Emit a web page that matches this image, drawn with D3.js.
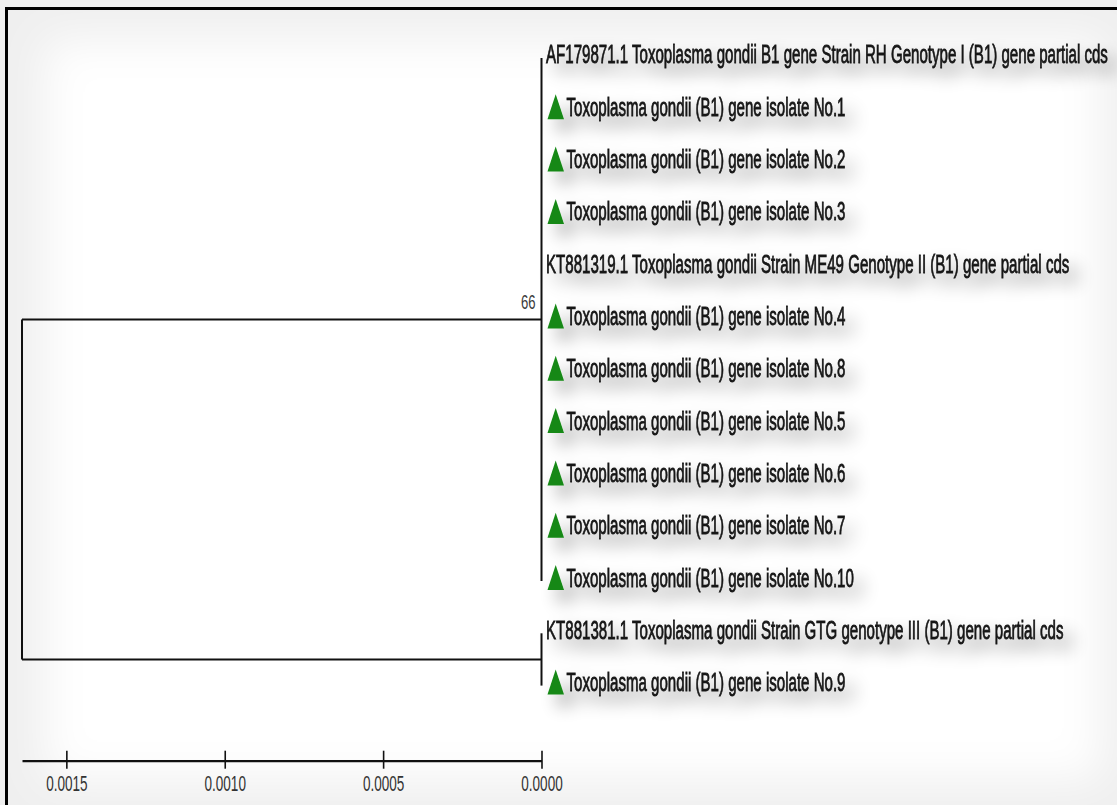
<!DOCTYPE html>
<html>
<head>
<meta charset="utf-8">
<script src="https://cdn.jsdelivr.net/npm/d3@7"></script>
<style>
  body { margin: 0; background: #fff; }
  text { font-family: "Liberation Sans", Arial, sans-serif; }
</style>
</head>
<body>
<div id="tree"></div>
<script>
// leaves, top to bottom
var leafNames = [
    "AF179871.1 Toxoplasma gondii B1 gene Strain RH Genotype I (B1) gene partial cds",
    "Toxoplasma gondii (B1) gene isolate No.1",
    "Toxoplasma gondii (B1) gene isolate No.2",
    "Toxoplasma gondii (B1) gene isolate No.3",
    "KT881319.1 Toxoplasma gondii Strain ME49 Genotype II (B1) gene partial cds",
    "Toxoplasma gondii (B1) gene isolate No.4",
    "Toxoplasma gondii (B1) gene isolate No.8",
    "Toxoplasma gondii (B1) gene isolate No.5",
    "Toxoplasma gondii (B1) gene isolate No.6",
    "Toxoplasma gondii (B1) gene isolate No.7",
    "Toxoplasma gondii (B1) gene isolate No.10",
    "KT881381.1 Toxoplasma gondii Strain GTG genotype III (B1) gene partial cds",
    "Toxoplasma gondii (B1) gene isolate No.9"
];
// isolates from this study get a green triangle
var isolateMark = [false, true, true, true, false, true, true, true, true, true, true, false, true];
// clade membership (index of clade for each leaf)
var leafClade = [0, 0, 0, 0, 0, 0, 0, 0, 0, 0, 0, 1, 1];
// branch length root -> clade, clade -> leaf
var cladeBranch = [0.00164, 0.00164];
var leafBranch = [0, 0, 0, 0, 0, 0, 0, 0, 0, 0, 0, 0, 0];
var cladeSupport = ["66", ""];
var scaleTicks = [0.0015, 0.0010, 0.0005, 0.0000];

drawTree();
function drawTree(){
    var W = 1117, H = 805;

    var svg = d3.select("#tree")
    .append("svg")
        .attr("width", W)
        .attr("height", H);

    var defs = svg.append("defs");
    var f = defs.append("filter").attr("id", "shadow")
        .attr("x", "-5%").attr("y", "-80%").attr("width", "125%").attr("height", "320%");
    f.append("feGaussianBlur").attr("in", "SourceAlpha").attr("stdDeviation", 9);
    f.append("feOffset").attr("dx", 9).attr("dy", 10).attr("result", "blur");
    f.append("feComponentTransfer").append("feFuncA").attr("type", "linear").attr("slope", 0.42);
    var m = f.append("feMerge");
    m.append("feMergeNode");
    m.append("feMergeNode").attr("in", "SourceGraphic");

    var vig = defs.append("filter").attr("id", "vig")
        .attr("x", "-10%").attr("y", "-10%").attr("width", "120%").attr("height", "120%");
    vig.append("feGaussianBlur").attr("stdDeviation", 22);

    // background with soft vignette
    svg.append("rect").attr("width", W).attr("height", H).attr("fill", "#efefef");
    svg.append("rect").attr("x", 45).attr("y", 40).attr("width", W - 60).attr("height", H - 65)
        .attr("fill", "#ffffff").attr("filter", "url(#vig)");

    // build hierarchy from the arrays
    var clades = cladeBranch.map(function(b, i) {
        return { name: "clade" + i, length: b, support: cladeSupport[i], children: [] };
    });
    leafNames.forEach(function(n, i) {
        clades[leafClade[i]].children.push({ name: n, length: leafBranch[i], mark: isolateMark[i], idx: i });
    });
    var root = d3.hierarchy({ name: "root", length: 0, children: clades });

    // distance from root, then height above tips
    root.each(function(d) { d.dist = (d.parent ? d.parent.dist : 0) + d.data.length; });
    var maxDist = d3.max(root.leaves(), function(d) { return d.dist; });

    var x = d3.scaleLinear()
        .domain([maxDist, 0])
        .range([22, 541.5]);

    var y = d3.scalePoint()
        .domain(d3.range(leafNames.length))
        .range([58, 685.6]);

    root.eachAfter(function(d) {
        if (!d.children) d.py = y(d.data.idx);
        else d.py = (d.children[0].py + d.children[d.children.length - 1].py) / 2;
        d.px = x(maxDist - d.dist);
    });

    var g = svg.append("g")
        .attr("stroke", "#111")
        .attr("stroke-width", 2)
        .attr("fill", "none");

    root.descendants().forEach(function(d) {
        if (!d.children) return;
        var first = d.children[0], last = d.children[d.children.length - 1];
        g.append("line")
            .attr("x1", d.px).attr("x2", d.px)
            .attr("y1", first.py).attr("y2", last.py);
        d.children.forEach(function(c) {
            if (c.px - d.px > 0.5)
                g.append("line")
                    .attr("x1", d.px).attr("x2", c.px)
                    .attr("y1", c.py).attr("y2", c.py);
        });
    });

    // bootstrap values
    root.descendants().filter(function(d) { return d.depth == 1 && d.data.support; })
        .forEach(function(d) {
            svg.append("text")
                .attr("transform", "translate(" + (d.px - 6) + "," + (d.py - 11) + ") scale(0.82,1.25)")
                .attr("text-anchor", "end")
                .attr("font-size", 16)
                .attr("fill", "#3a3a3a")
                .text(d.data.support);
        });

    // labels with shadow
    var lab = svg.append("g").attr("filter", "url(#shadow)");
    var leaves = root.leaves();

    lab.selectAll("path.tri")
        .data(leaves.filter(function(d) { return d.data.mark; }))
        .enter()
        .append("path")
        .attr("class", "tri")
        .attr("d", function(d) {
            var x0 = d.px + 6, yy = d.py;
            return "M" + x0 + "," + (yy + 9) + "L" + (x0 + 8.2) + "," + (yy - 16) + "L" + (x0 + 16.5) + "," + (yy + 9) + "Z";
        })
        .attr("fill", "#138813");

    lab.selectAll("text.leaf")
        .data(leaves)
        .enter()
        .append("text")
        .attr("class", "leaf")
        .attr("transform", function(d) {
            var tx = d.px + (d.data.mark ? 25 : 4.5);
            return "translate(" + tx + "," + (d.py + 5.5) + ") scale(0.838,1.42)";
        })
        .attr("font-size", 18)
        .attr("fill", "#141414")
        .attr("stroke", "#141414")
        .attr("stroke-width", 0.55)
        .text(function(d) { return d.data.name; });

    // scale bar
    var axis = svg.append("g")
        .attr("transform", "translate(0,760.7)")
        .call(d3.axisBottom(x)
            .tickValues(scaleTicks)
            .tickSizeOuter(0)
            .tickFormat(d3.format(".4f")));

    axis.select(".domain").attr("stroke", "#111").attr("stroke-width", 2.2);
    axis.selectAll(".tick line")
        .attr("y1", -10).attr("y2", 8)
        .attr("stroke", "#111").attr("stroke-width", 1.6);
    axis.selectAll(".tick text")
        .attr("y", null).attr("dy", null)
        .attr("transform", "translate(0,30) scale(0.82,1.38)")
        .attr("font-size", 16.5)
        .attr("fill", "#333")
        .attr("font-family", "Liberation Sans, Arial, sans-serif");

    // frame (left and top edge only)
    svg.append("path")
        .attr("d", "M6.5," + H + "V8.5H" + W)
        .attr("fill", "none")
        .attr("stroke", "#000")
        .attr("stroke-width", 3);
}
</script>
</body>
</html>
